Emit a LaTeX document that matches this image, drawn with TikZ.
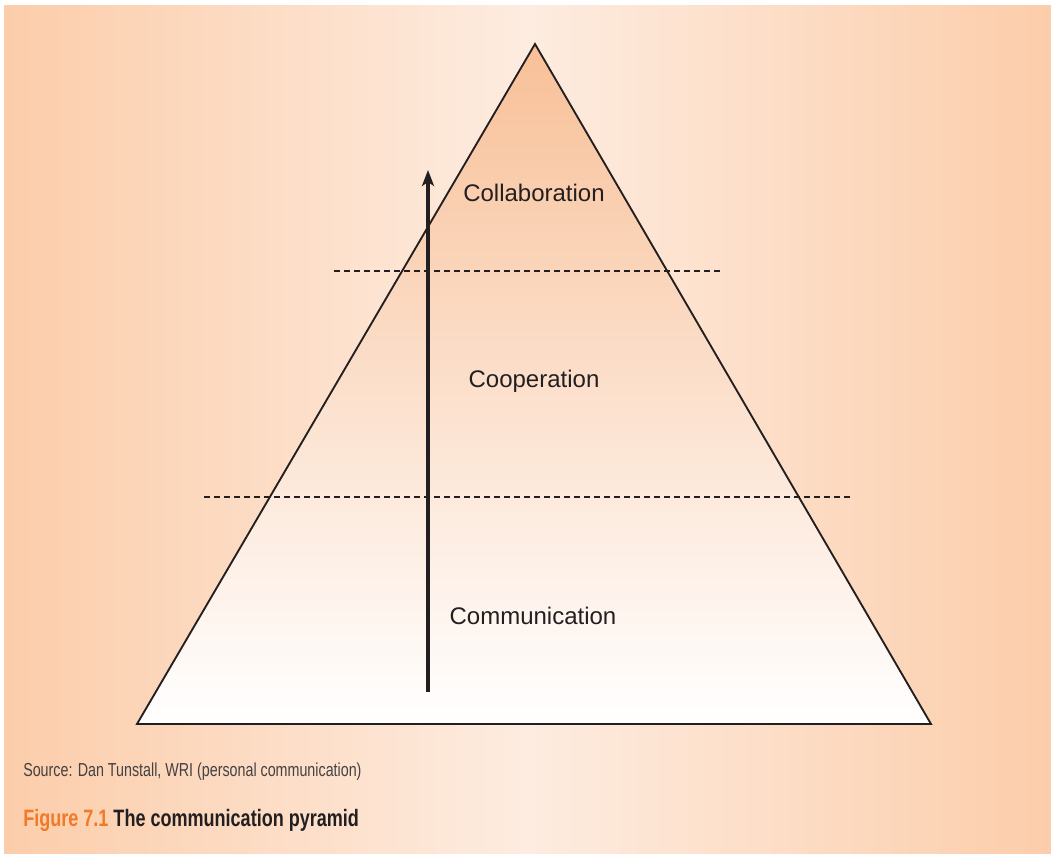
\documentclass[tikz,border=0pt]{standalone}
\usepackage{fontspec}
\setmainfont{Liberation Sans}
\newfontfamily\narrowfont[FakeStretch=0.76]{Liberation Sans}
\usetikzlibrary{arrows.meta}
\definecolor{bgedge}{RGB}{252,205,170}
\definecolor{bgmid}{RGB}{253,236,224}
\definecolor{pyrtop}{RGB}{248,192,152}
\definecolor{inkc}{RGB}{35,31,32}
\definecolor{figorange}{RGB}{240,122,40}
\tikzset{
  levellabel/.style={font=\fontsize{18}{21}\selectfont, text=inkc, inner sep=0pt},
  divider/.style={draw=inkc, line width=1.1pt, dash pattern=on 4.5pt off 3pt},
  outline/.style={draw=inkc, line width=1.4pt, line join=miter},
  rise/.style={draw=inkc, line width=2.3pt, -{Stealth[length=12pt,width=9pt,inset=3pt]}},
  smalltext/.style={font=\narrowfont\fontsize{14.1}{17}\selectfont, text=inkc!85, inner sep=0pt, anchor=west},
  captext/.style={font=\narrowfont\bfseries\fontsize{17.8}{21}\selectfont, text=inkc, inner sep=0pt, anchor=west}
}
\begin{document}
\begin{tikzpicture}[x=0.75pt,y=-0.75pt]
\useasboundingbox (0,0) rectangle (1051,854);
\fill[white] (0,0) rectangle (1051,854);
\shade[left color=bgedge, right color=bgmid] (4,5) rectangle (528,854);
\shade[left color=bgmid, right color=bgedge] (527,5) rectangle (1051,854);
% pyramid
\coordinate (apex) at (535,44);
\coordinate (bl) at (137,724);
\coordinate (br) at (931,724);
\shade[top color=pyrtop, bottom color=white] (apex) -- (bl) -- (br) -- cycle;
\draw[outline] (apex) -- (bl) -- (br) -- cycle;
% dividers
\coordinate (d1l) at (334,271);
\coordinate (d1r) at (724,271);
\coordinate (d2l) at (204,497);
\coordinate (d2r) at (851,497);
\draw[divider] (d1l) -- (d1r);
\draw[divider] (d2l) -- (d2r);
% arrow
\coordinate (abot) at (428,692);
\coordinate (atop) at (428,170);
\draw[rise] (abot) -- (atop);
% labels
\node[levellabel] (collab) at (534,193) {Collaboration};
\node[levellabel] (coop) at (534,381) {Cooperation};
\node[levellabel] (comm) at (533,616) {Communication};
% source and caption
\node[smalltext] (source) at (23,772) {Source: Dan Tunstall, WRI (personal communication)};
\node[captext] (caption) at (23,820) {\textcolor{figorange}{Figure 7.1} The communication pyramid};
\end{tikzpicture}
\end{document}
